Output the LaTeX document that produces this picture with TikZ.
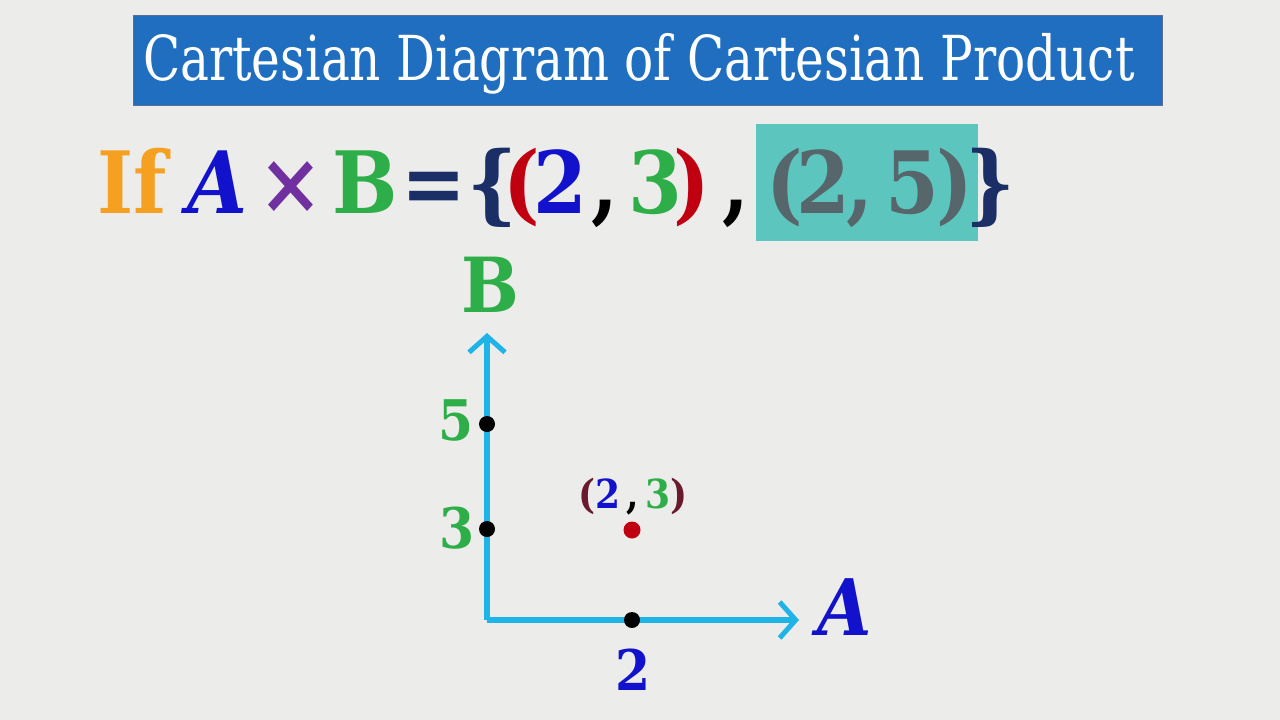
\documentclass[tikz,border=0pt]{standalone}
\usepackage{fontspec}
\setmainfont{DejaVu Serif}
\newfontfamily\condfont{DejaVu Serif Condensed}
\newfontfamily\titlefont[FakeStretch=0.87]{DejaVu Serif Condensed}
\usetikzlibrary{arrows.meta}
\definecolor{bg}{HTML}{ECECEA}
\definecolor{titleblue}{HTML}{1F6EC0}
\definecolor{cOrange}{HTML}{F5A020}
\definecolor{cBlue}{HTML}{1212CC}
\definecolor{cPurple}{HTML}{7030A0}
\definecolor{cGreen}{HTML}{2EAE48}
\definecolor{cNavy}{HTML}{1B2F66}
\definecolor{cRed}{HTML}{C00010}
\definecolor{cTeal}{HTML}{5CC6BE}
\definecolor{cGray}{HTML}{56666A}
\definecolor{cAxis}{HTML}{1EB4E8}
\definecolor{cDarkRed}{HTML}{6A1A2C}
\tikzset{
  eq/.style={anchor=base,inner sep=0pt,font=\condfont\bfseries\fontsize{86}{86}\selectfont},
  lbl/.style={anchor=base,inner sep=0pt,font=\condfont\bfseries\fontsize{56}{56}\selectfont},
  small/.style={anchor=base,inner sep=0pt,font=\condfont\bfseries\fontsize{40}{40}\selectfont},
  axis/.style={cAxis,line width=5.5pt,-{Straight Barb[length=16pt,width=36pt,line width=5pt]}},
  tickdot/.style={circle,fill=black,inner sep=0pt,minimum size=16pt},
}
\begin{document}
\begin{tikzpicture}[x=1pt,y=-1pt]
\fill[bg] (0,0) rectangle (1280,720);
\useasboundingbox (0,0) rectangle (1280,720);
% title
\node[fill=titleblue,draw=cNavy!70,line width=1pt,minimum width=1029pt,minimum height=90pt,inner sep=0pt,anchor=north west] (title) at (133,15) {};
\node[text=white,font=\titlefont\fontsize{62}{62}\selectfont,anchor=base] (titletext) at (639,80) {Cartesian Diagram of Cartesian Product};
% equation
\fill[cTeal] (756,124) rectangle (978,241);
\node[eq,text=cOrange,anchor=base west] (if) at (97,213) {If};
\node[eq,text=cBlue] (eA) at (218,213) {\itshape A};
\node[eq,text=cPurple] (times) at (291,213) {×};
\node[eq,text=cGreen] (eB) at (365,213) {B};
\node[eq,text=cNavy] (eq) at (434,213) {=};
\node[eq,text=cNavy] (lbrace) at (492,213) {\{};
\node[eq,text=cRed] (lp1) at (522,213) {(};
\node[eq,text=cBlue] (d21) at (560,213) {2};
\node[eq,text=black] (c1) at (605,213) {,};
\node[eq,text=cGreen] (d3) at (655,213) {3};
\node[eq,text=cRed] (rp1) at (692,213) {)};
\node[eq,text=black] (c2) at (736,213) {,};
\node[eq,text=cGray] (lp2) at (785,213) {(};
\node[eq,text=cGray] (d22) at (823,213) {2};
\node[eq,text=cGray] (c3) at (860,213) {,};
\node[eq,text=cGray] (d5) at (912,213) {5};
\node[eq,text=cGray] (rp2) at (955,213) {)};
\node[eq,text=cNavy] (rbrace) at (990,213) {\}};
% axes
\coordinate (O) at (487,620);
\coordinate (ytop) at (487,333);
\coordinate (xend) at (799,620);
\draw[axis] (O) -- (ytop);
\draw[axis] (O) -- (xend);
\node[tickdot] (t5) at (487,424) {};
\node[tickdot] (t3) at (487,529) {};
\node[tickdot] (t2) at (632,620) {};
\node[circle,fill=cRed,inner sep=0pt,minimum size=17pt] (p23) at (632,530) {};
% labels
\node[font=\condfont\bfseries\fontsize{76}{76}\selectfont,text=cGreen,anchor=base,inner sep=0pt] (lB) at (490,312) {B};
\node[font=\condfont\bfseries\itshape\fontsize{78}{78}\selectfont,text=cBlue,anchor=base,inner sep=0pt] (lA) at (845,635) {A};
\node[lbl,text=cGreen] (l5) at (456,440) {5};
\node[lbl,text=cGreen] (l3) at (457,548) {3};
\node[lbl,text=cBlue] (l2) at (633,690) {2};
\node[small,anchor=base] (l23) at (633,508) {\textcolor{cDarkRed}{(}\textcolor{cBlue}{2}\,\textcolor{black}{,}\,\textcolor{cGreen}{3}\textcolor{cDarkRed}{)}};
\end{tikzpicture}
\end{document}
